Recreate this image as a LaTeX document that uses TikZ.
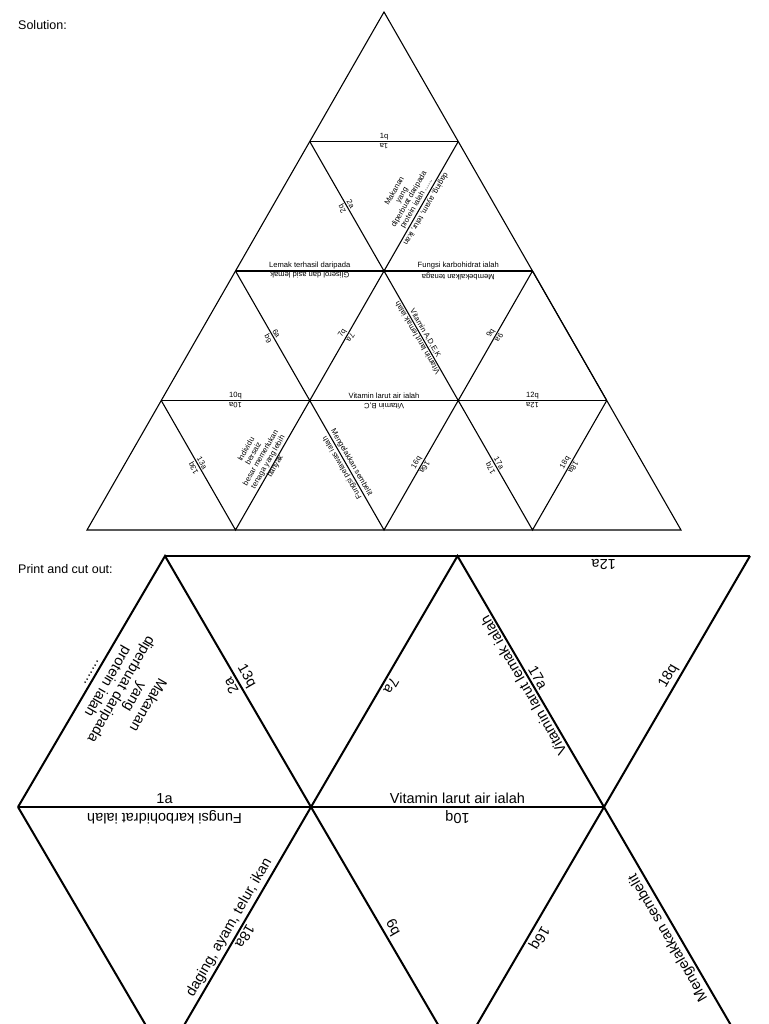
\documentclass[tikz,border=0pt]{standalone}
\usepackage{fontspec}
\setmainfont{Liberation Sans}
\usetikzlibrary{calc}
\begin{document}
\begin{tikzpicture}[x=1pt,y=-1pt,
  edge/.style={draw=black,line width=1.1pt},
  cedge/.style={draw=black,line width=2pt},
  sl/.style={font=\fontsize{7.6}{8.4}\selectfont,inner sep=1.5pt,anchor=south,align=center},
  cl/.style={font=\fontsize{14.5}{15.5}\selectfont,inner sep=3pt,anchor=south,align=center},
  hd/.style={font=\fontsize{12.5}{14}\selectfont,anchor=west,inner sep=0pt}]
\useasboundingbox (0,0) rectangle (768,1024);
\clip (0,0) rectangle (768,1024);
% ---- solution geometry
\coordinate (a) at (384,12);
\coordinate (v10) at (309.75,141.5); \coordinate (v11) at (458.25,141.5);
\coordinate (v20) at (235.5,271); \coordinate (v21) at (384,271); \coordinate (v22) at (532.5,271);
\coordinate (v30) at (161.25,400.5); \coordinate (v31) at (309.75,400.5); \coordinate (v32) at (458.25,400.5); \coordinate (v33) at (606.75,400.5);
\coordinate (v40) at (87,530); \coordinate (v41) at (235.5,530); \coordinate (v42) at (384,530); \coordinate (v43) at (532.5,530); \coordinate (v44) at (681,530);
\node[hd] (sol) at (18,25) {Solution:};
\draw[edge] (a) -- (v40) -- (v44) -- cycle;
\draw[edge] (v10) -- (v11);
\draw[edge] (v20) -- (v22);
\draw[edge] (v30) -- (v33);
\draw[edge] (v10) -- (v21) -- (v11);
\draw[edge] (v20) -- (v31) -- (v21) -- (v32) -- (v22) -- (v33);
\draw[edge] (v30) -- (v41) -- (v31) -- (v42) -- (v32) -- (v43) -- (v33);
% horizontal labels
\node[sl] (s1q) at ($(v10)!0.5!(v11)$) {1q};
\node[sl,rotate=180] (s1a) at ($(v10)!0.5!(v11)$) {1a};
\node[sl] (s3q) at ($(v20)!0.5!(v21)$) {Lemak terhasil daripada};
\node[sl,rotate=180] (s3a) at ($(v20)!0.5!(v21)$) {Gliserol dan asid lemak};
\node[sl] (s4q) at ($(v21)!0.5!(v22)$) {Fungsi karbohidrat ialah};
\node[sl,rotate=180] (s4a) at ($(v21)!0.5!(v22)$) {Membekalkan tenaga};
\node[sl] (s10q) at ($(v30)!0.5!(v31)$) {10q};
\node[sl,rotate=180] (s10a) at ($(v30)!0.5!(v31)$) {10a};
\node[sl] (s11q) at ($(v31)!0.5!(v32)$) {Vitamin larut air ialah};
\node[sl,rotate=180] (s11a) at ($(v31)!0.5!(v32)$) {Vitamin B,C};
\node[sl] (s12q) at ($(v32)!0.5!(v33)$) {12q};
\node[sl,rotate=180] (s12a) at ($(v32)!0.5!(v33)$) {12a};
% slanted labels
\node[sl,rotate=-60] (s2a) at ($(v10)!0.5!(v21)$) {2a};
\node[sl,rotate=120] (s2q) at ($(v10)!0.5!(v21)$) {2q};
\node[sl,rotate=60] (s5q) at ($(v21)!0.5!(v11)$) {Makanan\\yang\\diperbuat daripada\\protein ialah ......};
\node[sl,rotate=240] (s5a) at ($(v21)!0.5!(v11)$) {daging, ayam, telur, ikan};
\node[sl,rotate=-60] (s6a) at ($(v20)!0.5!(v31)$) {6a};
\node[sl,rotate=120] (s6q) at ($(v20)!0.5!(v31)$) {6q};
\node[sl,rotate=60] (s7q) at ($(v31)!0.5!(v21)$) {7q};
\node[sl,rotate=240] (s7a) at ($(v31)!0.5!(v21)$) {7a};
\node[sl,rotate=-60] (s8a) at ($(v21)!0.5!(v32)$) {Vitamin A,D,E,K};
\node[sl,rotate=120] (s8q) at ($(v21)!0.5!(v32)$) {Vitamin larut lemak ialah};
\node[sl,rotate=60] (s9q) at ($(v32)!0.5!(v22)$) {9q};
\node[sl,rotate=240] (s9a) at ($(v32)!0.5!(v22)$) {9a};
\node[sl,rotate=-60] (s13a) at ($(v30)!0.5!(v41)$) {13a};
\node[sl,rotate=120] (s13q) at ($(v30)!0.5!(v41)$) {13q};
\node[sl,rotate=60,anchor=center] (s14q) at (261,458) {Individu\\bersaiz\\besar memerlukan\\tenaga yang lebih\\banyak};
\node[sl,rotate=-60] (s15a) at ($(v31)!0.5!(v42)$) {Mengelakkan sembelit};
\node[sl,rotate=120] (s15q) at ($(v31)!0.5!(v42)$) {Fungsi pelawas ialah};
\node[sl,rotate=60] (s16q) at ($(v42)!0.5!(v32)$) {16q};
\node[sl,rotate=240] (s16a) at ($(v42)!0.5!(v32)$) {16a};
\node[sl,rotate=-60] (s17a) at ($(v32)!0.5!(v43)$) {17a};
\node[sl,rotate=120] (s17q) at ($(v32)!0.5!(v43)$) {17q};
\node[sl,rotate=60] (s18q) at ($(v43)!0.5!(v33)$) {18q};
\node[sl,rotate=240] (s18a) at ($(v43)!0.5!(v33)$) {18a};
% ---- cut out
\node[hd] (pc) at (18,569) {Print and cut out:};
\coordinate (t0) at (165,556); \coordinate (t1) at (457.5,556); \coordinate (t2) at (750,556);
\coordinate (m0) at (18,807); \coordinate (m1) at (311,807); \coordinate (m2) at (604,807);
\coordinate (b0) at (165,1058); \coordinate (b1) at (457.5,1058); \coordinate (b2) at (750,1058);
\draw[cedge] (t0) -- (t2);
\draw[cedge] (m0) -- (m2);
\draw[cedge] (b0) -- (b2);
\draw[cedge] (m0) -- (t0) -- (m1) -- (t1) -- (m2) -- (t2);
\draw[cedge] (m0) -- (b0) -- (m1) -- (b1) -- (m2) -- (b2);
\node[cl] (c1a) at ($(m0)!0.5!(m1)$) {1a};
\node[cl,rotate=240,anchor=center] (cmak) at (122,690) {Makanan\\yang\\diperbuat daripada\\protein ialah\\.......};
\node[cl,rotate=120] (c2a) at ($(t0)!0.5!(m1)$) {2a};
\node[cl,rotate=-60] (c13q) at ($(t0)!0.5!(m1)$) {13q};
\node[cl,rotate=240] (c7a) at ($(m1)!0.5!(t1)$) {7a};
\node[cl,rotate=120] (cvl) at ($(t1)!0.5!(m2)$) {Vitamin larut lemak ialah};
\node[cl,rotate=-60] (c17a) at ($(t1)!0.5!(m2)$) {17a};
\node[cl,rotate=180] (c12a) at ($(t1)!0.5!(t2)$) {12a};
\node[cl,rotate=60] (c18q) at ($(m2)!0.5!(t2)$) {18q};
\node[cl] (cva) at ($(m1)!0.5!(m2)$) {Vitamin larut air ialah};
\node[cl,rotate=180] (cfk) at ($(m0)!0.5!(m1)$) {Fungsi karbohidrat ialah};
\node[cl,rotate=180] (c10q) at ($(m1)!0.5!(m2)$) {10q};
\node[cl,rotate=60] (cdg) at ($(b0)!0.5!(m1)$) {daging, ayam, telur, ikan};
\node[cl,rotate=240] (c18a) at ($(b0)!0.5!(m1)$) {18a};
\node[cl,rotate=-60] (c6q) at ($(m1)!0.5!(b1)$) {6q};
\node[cl,rotate=240] (c16q) at ($(b1)!0.5!(m2)$) {16q};
\node[cl,rotate=120] (cms) at ($(m2)!0.5!(b2)$) {Mengelakkan sembelit};
\end{tikzpicture}
\end{document}
